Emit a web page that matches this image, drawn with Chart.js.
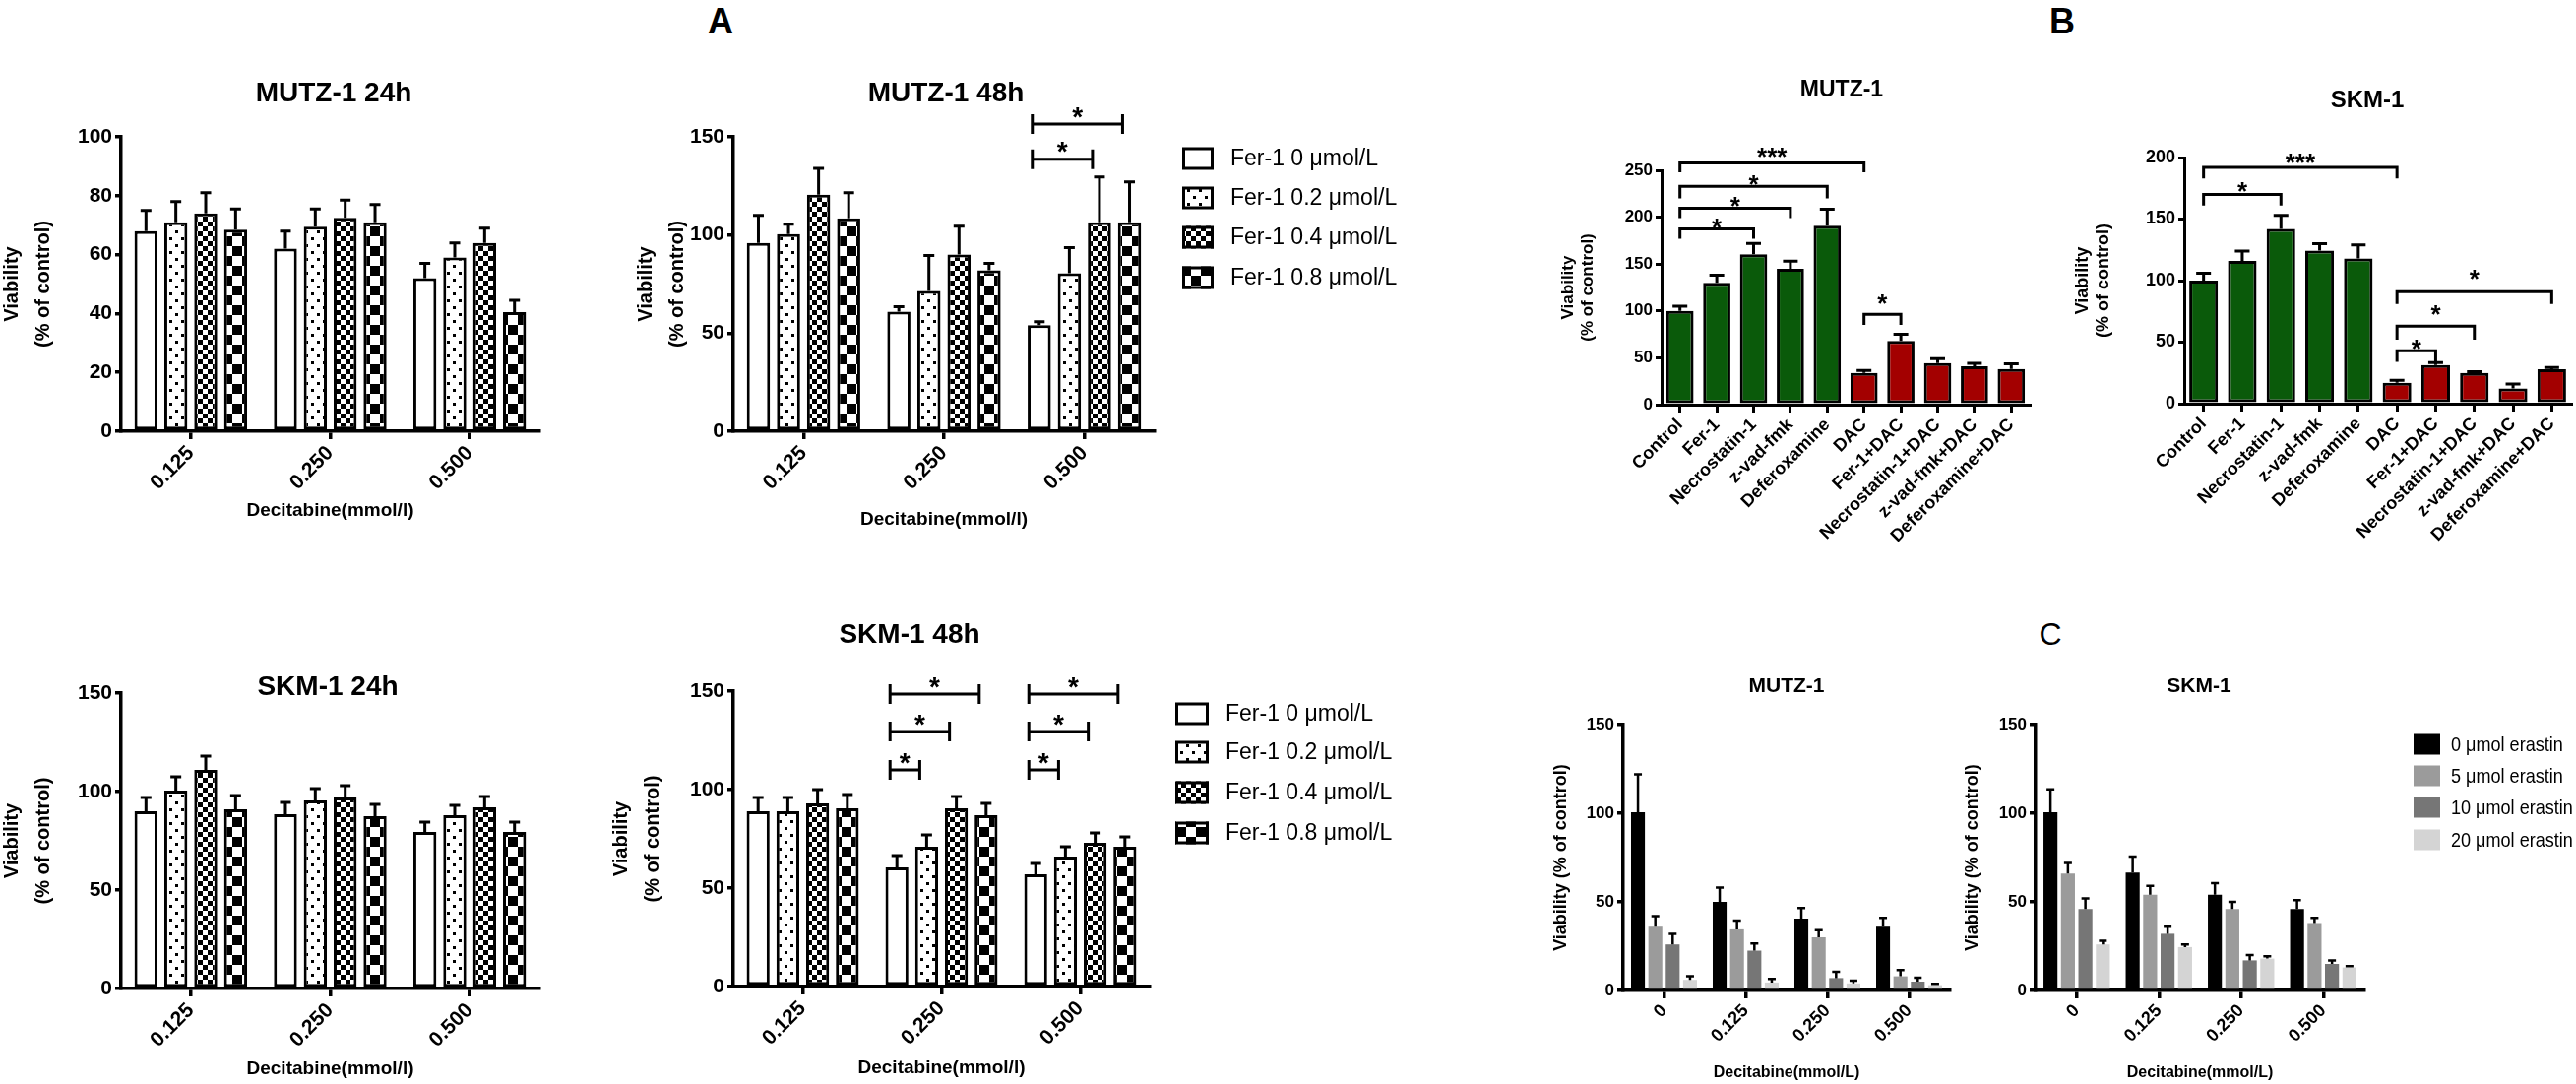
<!DOCTYPE html>
<html>
<head>
<meta charset="utf-8">
<script src="https://cdn.jsdelivr.net/npm/chart.js@4"></script>
<style>
  body { margin: 0; width: 2617px; height: 1101px; position: relative; overflow: hidden; background: #fff; }
  canvas { position: absolute; }
  .letter { position: absolute; font-family: 'Liberation Sans', Arial, sans-serif; line-height: 1; transform: translate(-50%, -50%); color: #000; }
</style>
</head>
<body>
<div class="letter" style="left:732px; top:22px; font-size:36px; font-weight:bold">A</div>
<div class="letter" style="left:2095px; top:22px; font-size:36px; font-weight:bold">B</div>
<div class="letter" style="left:2083px; top:644px; font-size:32px">C</div>
<script>
const FONT = "'Liberation Sans', Arial, Helvetica, sans-serif"

// ---------- panel A: Fer-1 doses x decitabine doses ----------
const decitabineA = ['0.125', '0.250', '0.500']
const fer1Labels = ['Fer-1 0 μmol/L', 'Fer-1 0.2 μmol/L', 'Fer-1 0.4 μmol/L', 'Fer-1 0.8 μmol/L']

// one row per Fer-1 dose, one value per decitabine dose
const mutz24 = [[68, 62, 52], [71, 69.5, 59], [74, 72.5, 64], [68.5, 71, 40.5]]
const mutz24Err = [[7, 6, 5], [7, 6, 5], [7, 6, 5], [7, 6, 4]]

const mutz48 = [[96, 61, 54], [100.5, 71.5, 80.5], [120.5, 90, 106.5], [108.5, 82, 106.5]]
const mutz48Err = [[14, 2.5, 1.8], [5, 18, 13], [13.5, 14.5, 23], [13, 3.5, 20.5]]

const skm24 = [[90, 88.5, 79.5], [100.5, 95.5, 88], [111, 97, 92], [91, 87.5, 79.5]]
const skm24Err = [[7, 6, 5], [7, 6, 5], [7, 6, 5.5], [7, 6, 5]]

const skm48 = [[89, 60.5, 57], [89, 71, 66], [93, 90.5, 73], [90.5, 87, 71]]
const skm48Err = [[7, 6, 5.5], [7, 6, 5], [7, 6, 5], [7, 6, 5]]

// significance bars (value level of the bar, datasets compared within one category)
const mutz48Sig = [
  { cat: 2, from: 0, to: 2, y: 138.6 },
  { cat: 2, from: 0, to: 3, y: 156.5 }
]
const skm48Sig = [
  { cat: 1, from: 0, to: 1, y: 110 },
  { cat: 1, from: 0, to: 2, y: 129.5 },
  { cat: 1, from: 0, to: 3, y: 148.5 },
  { cat: 2, from: 0, to: 1, y: 110 },
  { cat: 2, from: 0, to: 2, y: 129.5 },
  { cat: 2, from: 0, to: 3, y: 148.5 }
]

// ---------- panel B: inhibitors ----------
const treatments = ['Control', 'Fer-1', 'Necrostatin-1', 'z-vad-fmk', 'Deferoxamine',
  'DAC', 'Fer-1+DAC', 'Necrostatin-1+DAC', 'z-vad-fmk+DAC', 'Deferoxamine+DAC']
const bMutz = [100, 130, 160.5, 145, 191, 34, 68, 44.5, 41, 38]
const bMutzErr = [5, 8, 11.5, 8, 17.5, 2.5, 7, 4.5, 3, 5.5]
const bSkm = [100, 116, 142, 124.5, 118, 17, 31.5, 25, 12.5, 28]
const bSkmErr = [6, 8, 11, 5.5, 11, 2, 2, 1, 3.5, 1.5]

// brackets: from/to category, bar level, leg end level, star text, star level
const bMutzSig = [
  { from: 0, to: 2, y: 187.5, leg: 177, star: '*', sy: 194.5 },
  { from: 0, to: 3, y: 209.6, leg: 199, star: '*', sy: 217.7 },
  { from: 0, to: 4, y: 233, leg: 220, star: '*', sy: 241 },
  { from: 0, to: 5, y: 258, leg: 248, star: '***', sy: 271 },
  { from: 5, to: 6, y: 96.5, leg: 85, star: '*', sy: 113.8 }
]
const bSkmSig = [
  { from: 0, to: 2, y: 170, leg: 161, star: '*', sy: 177.6 },
  { from: 0, to: 5, y: 192, leg: 183, star: '***', sy: 200.8 },
  { from: 5, to: 6, y: 43, leg: 34, star: '*', sy: 49 },
  { from: 5, to: 7, y: 63, leg: 52, star: '*', sy: 77.5 },
  { from: 5, to: 9, y: 91, leg: 81, star: '*', sy: 105.7 }
]

// ---------- panel C: erastin ----------
const decitabineC = ['0', '0.125', '0.250', '0.500']
const erastinLabels = ['0 μmol erastin', '5 μmol erastin', '10 μmol erastin', '20 μmol erastin']
const cMutz = [[100.5, 50, 40.5, 36], [36, 34.5, 30, 8], [26, 22.5, 7, 5], [6, 4.5, 4, 3]]
const cMutzErr = [[21.5, 8, 6, 5], [6, 5, 4, 3.5], [6, 4, 3.5, 2.2], [2, 2, 1.5, 0.7]]
const cSkm = [[100.5, 66.5, 54, 46], [66, 54, 46, 38], [46, 32, 17, 15], [26, 24.5, 18, 13]]
const cSkmErr = [[13, 9, 6.5, 5], [6, 5, 4, 3], [6, 4, 3, 2], [2, 1.5, 1.3, 0.8]]

const GREEN = '#0a5a0a'
const RED = '#a30000'
const GREYS = ['#000000', '#9b9b9b', '#767676', '#d4d4d4']

// ---------- helpers ----------
function bold(size, lineHeight) {
  return { family: FONT, size, weight: 'bold', lineHeight: lineHeight || 1.2 }
}

function pattern(kind) {
  if (kind === 'open') return '#ffffff'
  const c = document.createElement('canvas')
  const g = c.getContext('2d')
  const size = { dots: [12, 14], fine: [10, 10], coarse: [20, 20] }[kind]
  c.width = size[0]
  c.height = size[1]
  g.fillStyle = '#fff'
  g.fillRect(0, 0, c.width, c.height)
  g.fillStyle = '#000'
  if (kind === 'dots') { g.fillRect(2, 2, 3, 3); g.fillRect(8, 9, 3, 3) }
  if (kind === 'fine') { g.fillRect(0, 0, 5, 5); g.fillRect(5, 5, 5, 5) }
  if (kind === 'coarse') { g.fillRect(0, 0, 10, 10); g.fillRect(10, 10, 10, 10) }
  return g.createPattern(c, 'repeat')
}
const fills = ['open', 'dots', 'fine', 'coarse'].map(pattern)

// error bars drawn upward from every bar, taken from dataset.errors
function errorBars(width, cap) {
  return {
    id: 'errorBars',
    afterDatasetsDraw(chart) {
      const { ctx } = chart
      const y = chart.scales.y
      ctx.save()
      ctx.strokeStyle = '#000'
      ctx.lineWidth = width
      chart.data.datasets.forEach((ds, i) => {
        chart.getDatasetMeta(i).data.forEach((bar, j) => {
          const top = y.getPixelForValue(ds.data[j] + ds.errors[j])
          ctx.beginPath()
          ctx.moveTo(bar.x, bar.y)
          ctx.lineTo(bar.x, top)
          ctx.moveTo(bar.x - cap / 2, top)
          ctx.lineTo(bar.x + cap / 2, top)
          ctx.stroke()
        })
      })
      ctx.restore()
    }
  }
}

function panelTitle(text, size, dx, dy) {
  return {
    id: 'panelTitle',
    afterDraw(chart) {
      const { ctx, chartArea: a } = chart
      ctx.save()
      ctx.fillStyle = '#000'
      ctx.font = `bold ${size}px ${FONT}`
      ctx.textAlign = 'center'
      ctx.textBaseline = 'middle'
      ctx.fillText(text, (a.left + a.right) / 2 + dx, a.top + dy)
      ctx.restore()
    }
  }
}

function sideLegend(o) {
  const squeeze = o.squeeze || 1
  return {
    id: 'sideLegend',
    afterDraw(chart) {
      const { ctx, chartArea: a } = chart
      ctx.save()
      ctx.font = `${o.size}px ${FONT}`
      ctx.textBaseline = 'middle'
      chart.data.datasets.forEach((ds, i) => {
        const cy = a.top + o.rows[i]
        const x = a.right + o.dx
        ctx.fillStyle = ds.backgroundColor
        ctx.fillRect(x, cy - o.boxH / 2, o.boxW, o.boxH)
        if (o.stroke) {
          ctx.strokeStyle = '#000'
          ctx.lineWidth = o.stroke
          ctx.strokeRect(x + o.stroke / 2, cy - o.boxH / 2 + o.stroke / 2, o.boxW - o.stroke, o.boxH - o.stroke)
        }
        ctx.fillStyle = '#000'
        ctx.save()
        ctx.translate(a.right + o.textDx, cy + 1)
        ctx.scale(squeeze, 1)
        ctx.fillText(ds.label, 0, 0)
        ctx.restore()
      })
      ctx.restore()
    }
  }
}

function drawStar(ctx, text, x, cy, size) {
  ctx.font = `bold ${size}px ${FONT}`
  ctx.textAlign = 'center'
  ctx.textBaseline = 'alphabetic'
  ctx.fillText(text, x, cy + size * 0.56)
}

// |----| bars between two bars of one group, star above
function groupSig(list) {
  return {
    id: 'groupSig',
    afterDatasetsDraw(chart) {
      const { ctx } = chart
      const y = chart.scales.y
      ctx.save()
      ctx.strokeStyle = '#000'
      ctx.fillStyle = '#000'
      ctx.lineWidth = 3
      list.forEach(s => {
        const a = chart.getDatasetMeta(s.from).data[s.cat]
        const b = chart.getDatasetMeta(s.to).data[s.cat]
        const x1 = a.x - a.width * 0.3
        const x2 = b.x - b.width * 0.3
        const py = y.getPixelForValue(s.y)
        ctx.beginPath()
        ctx.moveTo(x1, py); ctx.lineTo(x2, py)
        ctx.moveTo(x1, py - 10); ctx.lineTo(x1, py + 10)
        ctx.moveTo(x2, py - 10); ctx.lineTo(x2, py + 10)
        ctx.stroke()
        drawStar(ctx, '*', (x1 + x2) / 2, py - 14, 28)
      })
      ctx.restore()
    }
  }
}

// bracket between two categories, legs pointing down
function catSig(list) {
  return {
    id: 'catSig',
    afterDatasetsDraw(chart) {
      const { ctx } = chart
      const x = chart.scales.x
      const y = chart.scales.y
      ctx.save()
      ctx.strokeStyle = '#000'
      ctx.fillStyle = '#000'
      ctx.lineWidth = 3
      list.forEach(s => {
        const x1 = x.getPixelForValue(s.from)
        const x2 = x.getPixelForValue(s.to)
        const py = y.getPixelForValue(s.y)
        const pl = y.getPixelForValue(s.leg)
        ctx.beginPath()
        ctx.moveTo(x1, pl); ctx.lineTo(x1, py); ctx.lineTo(x2, py); ctx.lineTo(x2, pl)
        ctx.stroke()
        drawStar(ctx, s.star, (x1 + x2) / 2, y.getPixelForValue(s.sy), 26)
      })
      ctx.restore()
    }
  }
}

// ext: canvas box on the page, ca: wanted chart area on the page
function makeChart(p) {
  const c = document.createElement('canvas')
  c.width = p.ext.right - p.ext.left
  c.height = p.ext.bottom - p.ext.top
  c.style.left = p.ext.left + 'px'
  c.style.top = p.ext.top + 'px'
  document.body.appendChild(c)
  const yW = p.ca.l - p.ext.left
  const xH = p.ext.bottom - p.ca.b

  return new Chart(c, {
    type: 'bar',
    data: { labels: p.labels, datasets: p.datasets },
    options: {
      responsive: false,
      animation: false,
      devicePixelRatio: 1,
      layout: { padding: { top: p.ca.t - p.ext.top, right: p.ext.right - p.ca.r, left: 0, bottom: 0 } },
      datasets: { bar: { categoryPercentage: p.catPct, barPercentage: p.barPct } },
      plugins: { legend: { display: false }, tooltip: { enabled: false } },
      scales: {
        x: {
          offset: true,
          grid: { drawOnChartArea: false, offset: false, tickLength: 8, lineWidth: p.line, color: '#000' },
          border: { width: p.line, color: '#000' },
          ticks: { autoSkip: false, minRotation: 45, maxRotation: 45, padding: 2, color: '#000', font: bold(p.xTick) },
          title: p.xTitle
            ? { display: true, text: p.xTitle, color: '#000', padding: 0, font: bold(p.xTitleSize) }
            : { display: false },
          afterFit: s => { s.height = xH }
        },
        y: {
          min: 0,
          max: p.yMax,
          grid: { drawOnChartArea: false, tickLength: 6, lineWidth: p.line, color: '#000' },
          border: { width: p.line, color: '#000' },
          ticks: { stepSize: p.yStep, padding: 3, color: '#000', font: bold(p.yTick) },
          title: { display: true, text: p.yTitle, color: '#000', padding: 0, font: bold(p.yTitleSize, p.yTitleLH) },
          afterFit: s => { s.width = yW }
        }
      }
    },
    plugins: p.plugins
  })
}

function fer1Sets(values, errors) {
  return values.map((v, i) => ({
    label: fer1Labels[i],
    data: v,
    errors: errors[i],
    backgroundColor: fills[i],
    borderColor: '#000',
    borderWidth: 3,
    borderSkipped: false
  }))
}

function erastinSets(values, errors) {
  return values.map((v, i) => ({
    label: erastinLabels[i],
    data: v,
    errors: errors[i],
    backgroundColor: GREYS[i],
    borderWidth: 0
  }))
}

function treatmentSet(values, errors) {
  return [{
    label: 'Viability',
    data: values,
    errors,
    backgroundColor: treatments.map((t, i) => (i < 5 ? GREEN : RED)),
    borderColor: '#000',
    borderWidth: 3,
    borderSkipped: false
  }]
}

const yTitleTwo = ['Viability', '(% of control)']
const aCommon = {
  labels: decitabineA, catPct: 0.857, barPct: 0.77, line: 3.5,
  xTick: 21, yTick: 21, xTitle: 'Decitabine(mmol/l)', xTitleSize: 19,
  yTitle: yTitleTwo, yTitleSize: 20, yTitleLH: 1.6
}
const aLegend = o => sideLegend(Object.assign({ size: 23, stroke: 3, textDx: 77 }, o))

// ---------- A ----------
makeChart(Object.assign({}, aCommon, {
  ext: { left: -4, top: 50, right: 560, bottom: 530 },
  ca: { l: 123, t: 139, r: 548, b: 438 },
  datasets: fer1Sets(mutz24, mutz24Err), yMax: 100, yStep: 20,
  plugins: [errorBars(3, 11), panelTitle('MUTZ-1 24h', 28, 3.5, -44)]
}))

makeChart(Object.assign({}, aCommon, {
  ext: { left: 640, top: 50, right: 1440, bottom: 539 },
  ca: { l: 745, t: 139, r: 1173, b: 438 },
  datasets: fer1Sets(mutz48, mutz48Err), yMax: 150, yStep: 50,
  plugins: [errorBars(3, 11), groupSig(mutz48Sig), panelTitle('MUTZ-1 48h', 28, 2, -44),
    aLegend({ dx: 28, rows: [22, 62, 102, 143], boxW: 32, boxH: 23 })]
}))

makeChart(Object.assign({}, aCommon, {
  ext: { left: -4, top: 630, right: 560, bottom: 1097 },
  ca: { l: 123, t: 704, r: 548, b: 1004 },
  datasets: fer1Sets(skm24, skm24Err), yMax: 150, yStep: 50,
  plugins: [errorBars(3, 11), panelTitle('SKM-1 24h', 28, -2.5, -6)]
}))

makeChart(Object.assign({}, aCommon, {
  ext: { left: 615, top: 600, right: 1440, bottom: 1096 },
  ca: { l: 745, t: 702, r: 1168, b: 1002 },
  datasets: fer1Sets(skm48, skm48Err), yMax: 150, yStep: 50,
  plugins: [errorBars(3, 11), groupSig(skm48Sig), panelTitle('SKM-1 48h', 28, -32.5, -57),
    aLegend({ dx: 26, rows: [23, 62, 103, 144], boxW: 34, boxH: 23 })]
}))

// ---------- B ----------
const bCommon = {
  labels: treatments, catPct: 1, barPct: 0.74, line: 3,
  xTick: 18, yTitle: yTitleTwo, yTitleLH: 1.2
}

makeChart(Object.assign({}, bCommon, {
  ext: { left: 1583, top: 60, right: 2075, bottom: 560 },
  ca: { l: 1688, t: 173, r: 2062, b: 411 },
  datasets: treatmentSet(bMutz, bMutzErr), yMax: 250, yStep: 50, yTick: 17, yTitleSize: 17,
  plugins: [errorBars(3, 15), catSig(bMutzSig), panelTitle('MUTZ-1', 23, -4, -81)]
}))

makeChart(Object.assign({}, bCommon, {
  ext: { left: 2105, top: 60, right: 2617, bottom: 560 },
  ca: { l: 2219, t: 160, r: 2612, b: 410 },
  datasets: treatmentSet(bSkm, bSkmErr), yMax: 200, yStep: 50, yTick: 18, yTitleSize: 18,
  plugins: [errorBars(3, 15), catSig(bSkmSig), panelTitle('SKM-1', 24, -10.5, -58)]
}))

// ---------- C ----------
const cCommon = {
  labels: decitabineC, catPct: 0.85, barPct: 0.8, line: 3.5,
  xTick: 18, yTick: 17, xTitle: 'Decitabine(mmol/L)', xTitleSize: 16,
  yTitle: 'Viability (% of control)', yTitleSize: 18, yTitleLH: 1.2,
  yMax: 150, yStep: 50
}

makeChart(Object.assign({}, cCommon, {
  ext: { left: 1575, top: 620, right: 1990, bottom: 1099 },
  ca: { l: 1649, t: 736, r: 1981, b: 1006 },
  datasets: erastinSets(cMutz, cMutzErr),
  plugins: [errorBars(2.5, 8), panelTitle('MUTZ-1', 21, 0, -39)]
}))

makeChart(Object.assign({}, cCommon, {
  ext: { left: 1993, top: 620, right: 2617, bottom: 1099 },
  ca: { l: 2068, t: 736, r: 2402, b: 1006 },
  datasets: erastinSets(cSkm, cSkmErr),
  plugins: [errorBars(2.5, 8), panelTitle('SKM-1', 21, -1, -39),
    sideLegend({ dx: 50, rows: [20, 52, 84, 117], boxW: 27, boxH: 21, textDx: 88, size: 21, squeeze: 0.86 })]
}))
</script>
</body>
</html>
